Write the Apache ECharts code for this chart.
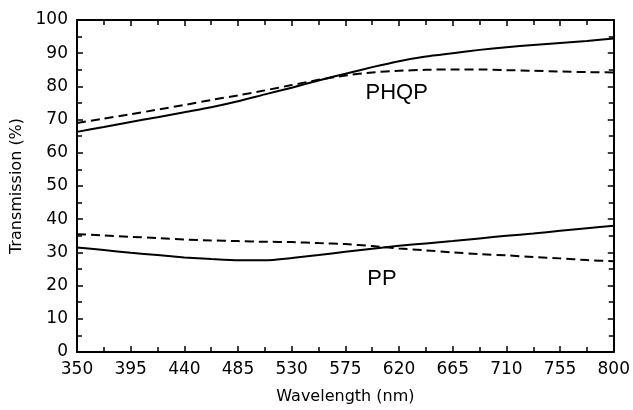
<!DOCTYPE html>
<html>
<head>
<meta charset="utf-8">
<script src="https://cdn.jsdelivr.net/npm/echarts@6/dist/echarts.min.js"></script>
<style>
  html, body { margin: 0; padding: 0; background: #fff; }
  #myChart { width: 633px; height: 410px; }
</style>
</head>
<body>
<div id="myChart"></div>
<script>
// wavelength (nm) sample points
var wavelengths = [350, 372.5, 395, 417.5, 440, 462.5, 485, 507.5, 530, 552.5, 575,
  597.5, 620, 642.5, 665, 687.5, 710, 732.5, 755, 777.5, 800];
// transmission (%)
var phqpSolid = [66.3, 67.8, 69.3, 70.7, 72.2, 73.7, 75.5, 77.6, 79.6, 81.8, 83.8,
  85.8, 87.6, 89.0, 90.0, 91.0, 91.8, 92.5, 93.1, 93.7, 94.4];
var phqpDashed = [69.0, 70.3, 71.6, 73.0, 74.4, 75.9, 77.3, 78.8, 80.4, 82.0, 83.3,
  84.2, 84.7, 85.0, 85.1, 85.1, 84.9, 84.7, 84.5, 84.3, 84.2];
var ppSolid = [31.5, 30.7, 29.9, 29.2, 28.5, 28.0, 27.6, 27.6, 28.3, 29.2, 30.2,
  31.1, 32.0, 32.7, 33.4, 34.2, 35.0, 35.7, 36.5, 37.3, 38.0];
var ppDashed = [35.5, 35.1, 34.7, 34.3, 33.9, 33.6, 33.4, 33.2, 33.1, 32.8, 32.5,
  31.9, 31.2, 30.6, 30.0, 29.5, 29.1, 28.6, 28.2, 27.7, 27.3];
var xTicks = [350, 395, 440, 485, 530, 575, 620, 665, 710, 755, 800];
var yTicks = [0, 10, 20, 30, 40, 50, 60, 70, 80, 90, 100];
var curveLabels = [
  { text: 'PHQP', wl: 618, value: 78.1 },
  { text: 'PP', wl: 605.6, value: 21.9 }
];

// x axis starts at 350 and steps by 45, so plot against (wl - 350)
var xStart = xTicks[0];
var xStep = xTicks[1] - xTicks[0];

function toPoints (vals) {
  var pts = [];
  for (var i = 0; i < wavelengths.length; i++) {
    pts.push([wavelengths[i] - xStart, vals[i]]);
  }
  return pts;
}

var dom = document.getElementById('myChart');
var myChart = echarts.init(dom, null, { renderer: 'canvas' });

var tickFont = 'DejaVu Sans';
var axisStyle = { color: '#000', width: 2 };

function makeXAxis (pos, showLabel) {
  return {
    type: 'value',
    position: pos,
    min: 0,
    max: xTicks[xTicks.length - 1] - xStart,
    interval: xStep,
    axisLine: { show: true, onZero: false, lineStyle: axisStyle },
    axisTick: { show: true, inside: true, length: 6, lineStyle: { color: '#000', width: 1.5 } },
    minorTick: { show: true, splitNumber: 2, length: 5, lineStyle: { color: '#000', width: 1.5 } },
    splitLine: { show: false },
    axisLabel: {
      show: showLabel,
      margin: 9,
      color: '#000',
      fontFamily: tickFont,
      fontSize: 17,
      formatter: function (v) { return String(v + xStart); }
    },
    name: showLabel ? 'Wavelength (nm)' : '',
    nameLocation: 'middle',
    nameGap: 37,
    nameTextStyle: { color: '#000', fontFamily: tickFont, fontSize: 16 }
  };
}

function makeYAxis (pos, showLabel) {
  return {
    type: 'value',
    position: pos,
    min: yTicks[0],
    max: yTicks[yTicks.length - 1],
    interval: yTicks[1] - yTicks[0],
    axisLine: { show: true, onZero: false, lineStyle: axisStyle },
    axisTick: { show: true, inside: true, length: 6, lineStyle: { color: '#000', width: 1.5 } },
    minorTick: { show: true, splitNumber: 2, length: 5, lineStyle: { color: '#000', width: 1.5 } },
    splitLine: { show: false },
    axisLabel: {
      show: showLabel,
      margin: 9,
      color: '#000',
      fontFamily: tickFont,
      fontSize: 17
    },
    name: showLabel ? 'Transmission (%)' : '',
    nameLocation: 'middle',
    nameGap: 44,
    nameTextStyle: { color: '#000', fontFamily: tickFont, fontSize: 16 }
  };
}

function lineSeries (vals, dashed, labelItem) {
  var s = {
    type: 'line',
    xAxisIndex: 0,
    yAxisIndex: 0,
    data: toPoints(vals),
    symbol: 'none',
    smooth: 0.2,
    silent: true,
    lineStyle: {
      color: '#000',
      width: 2,
      type: dashed ? [9, 5] : 'solid'
    }
  };
  if (labelItem) {
    s.markPoint = {
      symbol: 'circle',
      symbolSize: 1,
      silent: true,
      itemStyle: { color: 'rgba(0,0,0,0)' },
      label: {
        show: true,
        position: 'inside',
        color: '#000',
        fontFamily: 'Liberation Sans',
        fontSize: 22,
        formatter: '{b}'
      },
      data: [{ name: labelItem.text, coord: [labelItem.wl - xStart, labelItem.value] }]
    };
  }
  return s;
}

var option = {
  backgroundColor: '#fff',
  animation: false,
  grid: { left: 77, right: 19, top: 20, bottom: 56, containLabel: false },
  xAxis: [makeXAxis('bottom', true), makeXAxis('top', false)],
  yAxis: [makeYAxis('left', true), makeYAxis('right', false)],
  series: [
    lineSeries(phqpSolid, false, curveLabels[0]),
    lineSeries(phqpDashed, true),
    lineSeries(ppSolid, false, curveLabels[1]),
    lineSeries(ppDashed, true)
  ]
};

myChart.setOption(option);
window.addEventListener('resize', myChart.resize);
</script>
</body>
</html>
